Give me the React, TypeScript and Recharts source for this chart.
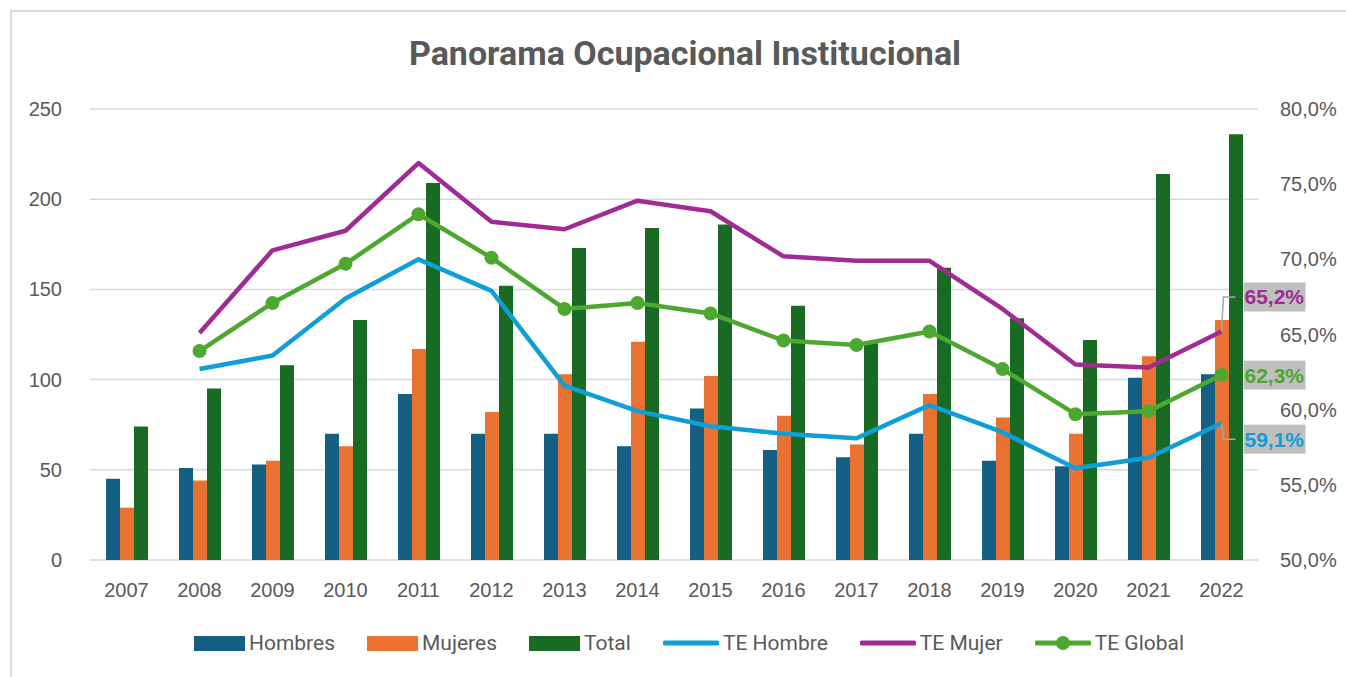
import React from 'react';
import {
  ComposedChart,
  Bar,
  Line,
  XAxis,
  YAxis,
  CartesianGrid,
  LabelList,
} from 'recharts';

const years = ['2007', '2008', '2009', '2010', '2011', '2012', '2013', '2014', '2015', '2016', '2017', '2018', '2019', '2020', '2021', '2022'];
const hombres = [45, 51, 53, 70, 92, 70, 70, 63, 84, 61, 57, 70, 55, 52, 101, 103];
const mujeres = [29, 44, 55, 63, 117, 82, 103, 121, 102, 80, 64, 92, 79, 70, 113, 133];
const total = [74, 95, 108, 133, 209, 152, 173, 184, 186, 141, 121, 162, 134, 122, 214, 236];
const teHombre = [null, 62.7, 63.6, 67.4, 70.0, 67.9, 61.6, 59.9, 58.9, 58.4, 58.1, 60.3, 58.5, 56.1, 56.8, 59.1];
const teMujer = [null, 65.1, 70.6, 71.9, 76.4, 72.5, 72.0, 73.9, 73.2, 70.2, 69.9, 69.9, 66.7, 63.0, 62.8, 65.2];
const teGlobal = [null, 63.9, 67.1, 69.7, 73.0, 70.1, 66.7, 67.1, 66.4, 64.6, 64.3, 65.2, 62.7, 59.7, 59.9, 62.3];

const leftTicks = [0, 50, 100, 150, 200, 250];
const rightTicks = [50, 55, 60, 65, 70, 75, 80];

const COLORS = {
  hombres: '#156082',
  mujeres: '#E97132',
  total: '#196B24',
  teHombre: '#0F9ED5',
  teMujer: '#A02B93',
  teGlobal: '#4EA72E',
};

const data = years.map((year, i) => ({
  year,
  hombres: hombres[i],
  mujeres: mujeres[i],
  total: total[i],
  teHombre: teHombre[i],
  teMujer: teMujer[i],
  teGlobal: teGlobal[i],
}));

const legendItems = [
  { name: 'Hombres', color: COLORS.hombres, kind: 'bar' },
  { name: 'Mujeres', color: COLORS.mujeres, kind: 'bar' },
  { name: 'Total', color: COLORS.total, kind: 'bar' },
  { name: 'TE Hombre', color: COLORS.teHombre, kind: 'line' },
  { name: 'TE Mujer', color: COLORS.teMujer, kind: 'line' },
  { name: 'TE Global', color: COLORS.teGlobal, kind: 'dot' },
];

const TEXT = '#595959';
const AXIS_FONT = '"Liberation Sans", Arial, sans-serif';

const fmtPct = (v: number) => `${v.toFixed(1).replace('.', ',')}%`;

// boxed value label on the last point, with a small leader line
const endLabel = (color: string, dy: number, leader: boolean) => (props: any) => {
  if (props.index !== years.length - 1 || props.value == null) return null;
  const x = props.x ?? props.viewBox?.x;
  const y = props.y ?? props.viewBox?.y;
  const cy = y + dy;
  return (
    <g>
      {leader && (
        <polyline
          points={`${x},${y} ${x + 2},${cy} ${x + 14},${cy}`}
          fill="none"
          stroke="#a6a6a6"
          strokeWidth={1.5}
        />
      )}
      <rect x={x + 22} y={cy - 14.5} width={62} height={29} fill="#BFBFBF" />
      <text
        x={x + 23}
        y={cy}
        dominantBaseline="central"
        fontFamily={AXIS_FONT}
        fontSize={21}
        fontWeight="bold"
        fill={color}
      >
        {fmtPct(props.value)}
      </text>
    </g>
  );
};

const App: React.FC = () => {
  return (
    <div
      style={{
        position: 'fixed',
        left: 0,
        top: 0,
        width: 1346,
        height: 677,
        overflow: 'hidden',
        background: '#fff',
      }}
    >
      <div
        style={{
          position: 'absolute',
          left: 10,
          top: 10,
          width: 1400,
          height: 720,
          border: '2px solid #d9d9d9',
        }}
      />
      <div
        style={{
          position: 'absolute',
          left: 0,
          top: 33,
          width: 1370,
          textAlign: 'center',
          fontFamily: 'Roboto, sans-serif',
          fontWeight: 700,
          fontSize: 34,
          lineHeight: '40px',
          color: TEXT,
        }}
      >
        Panorama Ocupacional Institucional
      </div>
      <ComposedChart
        width={1346}
        height={677}
        data={data}
        barGap={0}
        margin={{ top: 109, right: 0, bottom: 0, left: 0 }}
        style={{ position: 'absolute', left: 0, top: 0 }}
      >
        <CartesianGrid
          yAxisId="left"
          vertical={false}
          stroke="#d9d9d9"
          strokeWidth={1.5}
        />
        <XAxis
          dataKey="year"
          height={117}
          axisLine={false}
          tickLine={false}
          tickSize={0}
          tickMargin={0}
          interval={0}
          tick={(p: any) => (
            <text
              x={p.x}
              y={p.y + 37}
              textAnchor="middle"
              fontFamily={AXIS_FONT}
              fontSize={20}
              fill={TEXT}
            >
              {p.payload.value}
            </text>
          )}
        />
        <YAxis
          yAxisId="left"
          width={90}
          domain={[0, 250]}
          ticks={leftTicks}
          axisLine={false}
          tickLine={false}
          tickSize={0}
          tickMargin={0}
          tick={(p: any) => (
            <text
              x={p.x - 28}
              y={p.y}
              textAnchor="end"
              dominantBaseline="central"
              fontFamily={AXIS_FONT}
              fontSize={20}
              fill={TEXT}
            >
              {p.payload.value}
            </text>
          )}
        />
        <YAxis
          yAxisId="right"
          orientation="right"
          width={88}
          domain={[50, 80]}
          ticks={rightTicks}
          axisLine={false}
          tickLine={false}
          tickSize={0}
          tickMargin={0}
          tick={(p: any) => (
            <text
              x={p.x + 22}
              y={p.y}
              textAnchor="start"
              dominantBaseline="central"
              fontFamily={AXIS_FONT}
              fontSize={20}
              fill={TEXT}
            >
              {fmtPct(p.payload.value)}
            </text>
          )}
        />
        <Bar yAxisId="left" dataKey="hombres" fill={COLORS.hombres} barSize={14} isAnimationActive={false} />
        <Bar yAxisId="left" dataKey="mujeres" fill={COLORS.mujeres} barSize={14} isAnimationActive={false} />
        <Bar yAxisId="left" dataKey="total" fill={COLORS.total} barSize={14} isAnimationActive={false} />
        <Line
          yAxisId="right"
          dataKey="teHombre"
          stroke={COLORS.teHombre}
          strokeWidth={4.5}
          strokeLinejoin="round"
          dot={false}
          activeDot={false}
          isAnimationActive={false}
        >
          <LabelList dataKey="teHombre" content={endLabel(COLORS.teHombre, 16, true)} />
        </Line>
        <Line
          yAxisId="right"
          dataKey="teMujer"
          stroke={COLORS.teMujer}
          strokeWidth={4.5}
          strokeLinejoin="round"
          dot={false}
          activeDot={false}
          isAnimationActive={false}
        >
          <LabelList dataKey="teMujer" content={endLabel(COLORS.teMujer, -34.5, true)} />
        </Line>
        <Line
          yAxisId="right"
          dataKey="teGlobal"
          stroke={COLORS.teGlobal}
          strokeWidth={4.5}
          strokeLinejoin="round"
          dot={{ r: 7, fill: COLORS.teGlobal, stroke: 'none' }}
          activeDot={false}
          isAnimationActive={false}
        >
          <LabelList dataKey="teGlobal" content={endLabel(COLORS.teGlobal, 0, false)} />
        </Line>
      </ComposedChart>
      <div
        style={{
          position: 'absolute',
          left: 0,
          top: 630,
          width: 1378,
          display: 'flex',
          justifyContent: 'center',
          alignItems: 'center',
          gap: 32,
          fontFamily: 'Roboto, sans-serif',
          fontSize: 21,
          color: TEXT,
          height: 26,
        }}
      >
        {legendItems.map(item => (
          <div key={item.name} style={{ display: 'flex', alignItems: 'center', gap: 4 }}>
            {item.kind === 'bar' ? (
              <div style={{ width: 51, height: 15, background: item.color }} />
            ) : (
              <svg width={56} height={16}>
                <line x1={2} y1={8} x2={54} y2={8} stroke={item.color} strokeWidth={5} strokeLinecap="round" />
                {item.kind === 'dot' && <circle cx={28} cy={8} r={7} fill={item.color} />}
              </svg>
            )}
            <span>{item.name}</span>
          </div>
        ))}
      </div>
    </div>
  );
};

export default App;
